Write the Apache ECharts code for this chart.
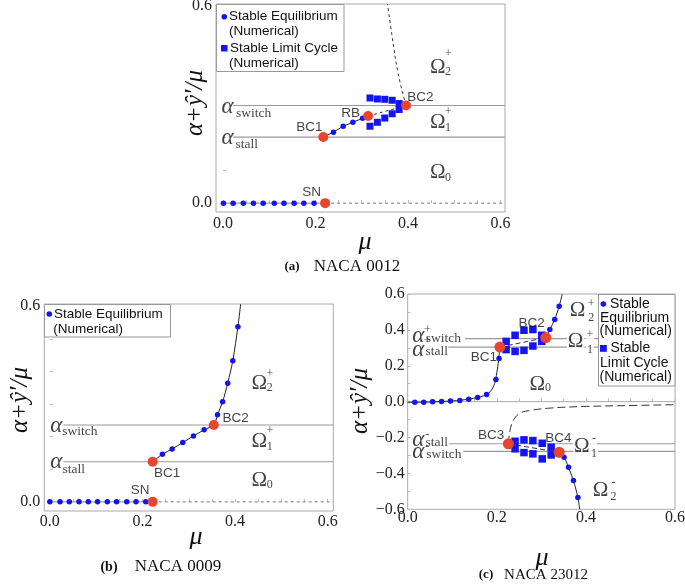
<!DOCTYPE html>
<html><head><meta charset="utf-8">
<script src="https://cdn.jsdelivr.net/npm/echarts@6/dist/echarts.min.js"></script>
<style>html,body{margin:0;padding:0;background:#fff}#c{width:685px;height:585px}</style>
</head><body><div id="c"></div>
<script>
// ---------- tick values ----------
const muTicks = [0, 0.2, 0.4, 0.6];
const yTicksAB = [0, 0.6];
const yTicksC = [-0.6, -0.4, -0.2, 0, 0.2, 0.4, 0.6];
const muMinor = [0, 0.05, 0.1, 0.15, 0.2, 0.25, 0.3, 0.35, 0.4, 0.45, 0.5, 0.55, 0.6];
const yMinorAB = [0, 0.1, 0.2, 0.3, 0.4, 0.5, 0.6];
const yMinorC = [-0.6, -0.5, -0.4, -0.3, -0.2, -0.1, 0, 0.1, 0.2, 0.3, 0.4, 0.5, 0.6];

// ---------- (a) NACA 0012 ----------
const a_eqZero = [[0.001,0],[0.022,0],[0.044,0],[0.066,0],[0.087,0],[0.111,0],[0.132,0],[0.154,0],[0.175,0],[0.197,0]];
const a_eqUpper = [[0.239,0.216],[0.260,0.234],[0.281,0.246],[0.302,0.258]];
const a_lcUpper = [[0.318,0.320],[0.334,0.317],[0.350,0.316],[0.366,0.313],[0.381,0.303]];
const a_lcLower = [[0.318,0.234],[0.334,0.246],[0.350,0.259],[0.366,0.272],[0.381,0.285]];
const a_bif = [[0.221,0],[0.217,0.201],[0.314,0.265],[0.396,0.297]]; // SN, BC1, RB, BC2
const a_stableCurve = [[0.217,0.201],[0.239,0.216],[0.260,0.234],[0.281,0.246],[0.302,0.258],[0.314,0.265]];
const a_unstableBranch = [[0.314,0.265],[0.396,0.297]];
const a_unstableCurve = [[0.396,0.297],[0.379,0.394],[0.365,0.516],[0.356,0.606]];
const a_zeroStable = [[0,0],[0.221,0]];
const a_zeroUnstable = [[0.221,0],[0.61,0]];
const a_alphaSwitch = 0.297, a_alphaStall = 0.201, a_alphaStart = 0.022;

// ---------- (b) NACA 0009 ----------
const b_eqZero = [[0.0,0],[0.022,0],[0.042,0],[0.063,0],[0.083,0],[0.103,0],[0.124,0],[0.144,0],[0.166,0],[0.186,0],[0.207,0]];
const b_eqUpper = [[0.243,0.146],[0.264,0.162],[0.287,0.182],[0.310,0.202],[0.333,0.221],[0.362,0.267],[0.373,0.307],[0.384,0.364],[0.395,0.433],[0.406,0.537]];
const b_bif = [[0.222,0],[0.222,0.123],[0.354,0.236]]; // SN, BC1, BC2
const b_curve = [[0.222,0.123],[0.243,0.146],[0.264,0.162],[0.287,0.182],[0.310,0.202],[0.333,0.221],[0.354,0.236],[0.362,0.267],[0.373,0.307],[0.384,0.364],[0.395,0.433],[0.406,0.537],[0.412,0.607]];
const b_zeroStable = [[0,0],[0.222,0]];
const b_zeroUnstable = [[0.222,0],[0.612,0]];
const b_alphaSwitch = 0.236, b_alphaStall = 0.123, b_alphaStart = 0.029;

// ---------- (c) NACA 23012 ----------
const c_eqLower = [[0.016,-0.003],[0.036,-0.003],[0.056,0.0],[0.076,0.001],[0.096,0.003],[0.117,0.007],[0.137,0.014],[0.157,0.023],[0.177,0.040],[0.198,0.124],[0.205,0.240]];
const c_eqUpper = [[0.319,0.402],[0.330,0.458],[0.340,0.532]];
const c_eqNeg = [[0.351,-0.310],[0.361,-0.366],[0.372,-0.440],[0.382,-0.534]];
const c_lcPosUpper = [[0.221,0.336],[0.241,0.370],[0.261,0.398],[0.281,0.402],[0.301,0.370]];
const c_lcPosLower = [[0.221,0.290],[0.241,0.280],[0.261,0.286],[0.281,0.310],[0.301,0.336]];
const c_lcNegUpper = [[0.241,-0.221],[0.261,-0.213],[0.281,-0.217],[0.302,-0.232],[0.322,-0.254]];
const c_lcNegLower = [[0.241,-0.263],[0.261,-0.284],[0.281,-0.291],[0.302,-0.319],[0.322,-0.297]];
const c_bif = [[0.207,0.304],[0.310,0.357],[0.226,-0.235],[0.340,-0.282]]; // BC1..BC4
const c_curveLow = [[0,-0.004],[0.05,-0.002],[0.1,0.004],[0.14,0.015],[0.17,0.032],[0.185,0.055],[0.195,0.1],[0.2,0.16],[0.204,0.23],[0.207,0.304]];
const c_curveUp = [[0.310,0.357],[0.319,0.402],[0.330,0.458],[0.340,0.532],[0.347,0.6]];
const c_curveNeg = [[0.340,-0.282],[0.351,-0.310],[0.361,-0.366],[0.372,-0.440],[0.382,-0.534],[0.386,-0.6]];
const c_dashPos = [[0.207,0.304],[0.310,0.357]];
const c_dashNeg = [[0.226,-0.235],[0.340,-0.282]];
const c_dashCurve = [[0.226,-0.235],[0.229,-0.17],[0.237,-0.105],[0.252,-0.064],[0.275,-0.049],[0.319,-0.036],[0.394,-0.027],[0.469,-0.023],[0.6,-0.017]];
const c_zero = [[0,0],[0.6,0]];
const c_alpha = [[0.351,0.129],[0.304,0.091],[-0.235,0.093],[-0.277,0.125]]; // [value, start mu]

// ---------- annotations (data coordinates) ----------
const a_text = [
  ['BC2',0.427,0.323,'pt'],['RB',0.276,0.272,'pt'],['BC1',0.187,0.232,'pt'],['SN',0.192,0.034,'pt'],
  ['Ω',0.4645,0.414,'om'],['+',0.487,0.455,'os'],['2',0.487,0.400,'os'],
  ['Ω',0.4645,0.244,'om'],['+',0.487,0.279,'os'],['1',0.487,0.230,'os'],
  ['Ω',0.4645,0.092,'om'],['0',0.487,0.077,'os'],
  ['α',0.0099,0.292,'al'],['switch',0.0662,0.273,'as'],
  ['α',0.0099,0.197,'al'],['stall',0.0517,0.180,'as']
];
const b_text = [
  ['BC2',0.401,0.256,'pt'],['BC1',0.253,0.088,'pt'],['SN',0.195,0.035,'pt'],
  ['Ω',0.452,0.364,'om'],['+',0.475,0.394,'os'],['2',0.475,0.350,'os'],
  ['Ω',0.452,0.185,'om'],['+',0.475,0.217,'os'],['1',0.475,0.169,'os'],
  ['Ω',0.452,0.065,'om'],['0',0.475,0.053,'os'],
  ['α',0.0138,0.233,'al'],['switch',0.065,0.215,'as'],
  ['α',0.0138,0.121,'al'],['stall',0.0516,0.099,'as']
];
const c_text = [
  ['BC2',0.278,0.439,'pt'],['BC1',0.171,0.250,'pt'],['BC3',0.187,-0.188,'pt'],['BC4',0.338,-0.203,'pt'],
  ['Ω',0.381,0.509,'om'],['+',0.412,0.545,'os'],['2',0.412,0.467,'os'],
  ['Ω',0.377,0.335,'om',1],['+',0.409,0.372,'os',1],['1',0.409,0.288,'os',1],
  ['Ω',0.291,0.098,'om'],['0',0.315,0.076,'os'],
  ['Ω',0.391,-0.249,'om',1],['-',0.418,-0.207,'os',1],['1',0.418,-0.293,'os',1],
  ['Ω',0.433,-0.493,'om'],['-',0.462,-0.450,'os'],['2',0.462,-0.532,'os'],
  ['α',0.024,0.367,'al'],['+',0.044,0.398,'os'],['switch',0.080,0.353,'as'],
  ['α',0.024,0.290,'al'],['+',0.044,0.338,'os'],['stall',0.065,0.280,'as'],
  ['α',0.024,-0.212,'al'],['-',0.044,-0.183,'os'],['stall',0.065,-0.226,'as'],
  ['α',0.024,-0.282,'al'],['-',0.044,-0.254,'os'],['switch',0.081,-0.295,'as']
];

// ---------- styling ----------
const FS = '"Liberation Serif","Times New Roman",serif';
const SS = '"Liberation Sans",Arial,sans-serif';
const BLUE = '#1414f0', RED = '#e8452e';
const STY = {
  pt:{fontFamily:SS,fontSize:13.5,color:'#111'},
  om:{fontFamily:FS,fontSize:21,color:'#111'},
  os:{fontFamily:FS,fontSize:12,color:'#111'},
  al:{fontFamily:FS,fontSize:23,fontStyle:'italic',color:'#111'},
  as:{fontFamily:FS,fontSize:13.5,color:'#111'}
};
const fmt = v => (v < -1e-9 ? '\u2212' : '') + Math.abs(v).toFixed(1);

function line(gi, data, color, width, type, smooth, z) {
  return {type:'line', xAxisIndex:gi, yAxisIndex:gi, data:data, symbol:'none', smooth:smooth||false,
    lineStyle:{color:color, width:width, type:type||'solid'}, silent:true, z:z||2, animation:false};
}
function pts(gi, data, symbol, size, color, z) {
  return {type:'scatter', xAxisIndex:gi, yAxisIndex:gi, data:data, symbol:symbol, symbolSize:size,
    itemStyle:{color:color, opacity:1}, silent:true, z:z||3, animation:false};
}
function texts(gi, arr) {
  return {type:'scatter', xAxisIndex:gi, yAxisIndex:gi, symbolSize:1, itemStyle:{color:'rgba(0,0,0,0)'},
    silent:true, z:8, animation:false,
    data: arr.map(a => ({value:[a[1],a[2]], label:Object.assign({show:true, position:'inside', formatter:a[0],
      backgroundColor: a[4] ? '#fff' : 'transparent', padding: a[4] ? [0,1] : 0}, STY[a[3]])}))};
}
function hline(gi, y, x0, x1) { return line(gi, [[x0,y],[x1,y]], '#9a9a9a', 1.1, 'solid', false, 1); }

function xAx(gi, min, max, margin) {
  return {type:'value', gridIndex:gi, min:min, max:max, axisLine:{show:false}, splitLine:{show:false},
    axisTick:{show:true, inside:true, length:3, customValues:muMinor, lineStyle:{color:'#bbb'}},
    axisLabel:{customValues:muTicks, formatter:fmt, fontFamily:FS, fontSize:16, color:'#222', margin:margin}};
}
function yAx(gi, min, max, ticks, minor, margin) {
  return {type:'value', gridIndex:gi, min:min, max:max, axisLine:{show:false}, splitLine:{show:false},
    axisTick:{show:true, inside:true, length:3, customValues:minor, lineStyle:{color:'#bbb'}},
    axisLabel:{customValues:ticks, formatter:fmt, fontFamily:FS, fontSize:16, color:'#222', margin:margin}};
}
const gridBase = {show:true, borderColor:'#aaa', borderWidth:1, backgroundColor:'transparent', containLabel:false, outerBoundsMode:'none'};

const series = [
  // (a)
  hline(0, a_alphaSwitch, a_alphaStart, 0.61), hline(0, a_alphaStall, a_alphaStart, 0.61),
  line(0, a_zeroStable, '#888', 1, 'solid'), line(0, a_zeroUnstable, '#777', 1, [3,3]),
  line(0, a_stableCurve, '#222', 1, 'solid'), line(0, a_unstableBranch, '#333', 1, [3,3]),
  line(0, a_unstableCurve, '#333', 1, [3,3], 0.4),
  pts(0, a_eqZero, 'circle', 5.5, BLUE), pts(0, a_eqUpper, 'circle', 5.5, BLUE),
  pts(0, a_lcUpper, 'rect', 7, BLUE), pts(0, a_lcLower, 'rect', 7, BLUE),
  pts(0, a_bif, 'circle', 10, RED, 4),
  texts(0, a_text),
  // (b)
  hline(1, b_alphaSwitch, b_alphaStart, 0.612), hline(1, b_alphaStall, b_alphaStart, 0.612),
  line(1, b_zeroStable, '#888', 1, 'solid'), line(1, b_zeroUnstable, '#777', 1, [3,3]),
  line(1, b_curve, '#222', 1, 'solid', 0.3),
  pts(1, b_eqZero, 'circle', 5.5, BLUE), pts(1, b_eqUpper, 'circle', 5.5, BLUE),
  pts(1, b_bif, 'circle', 10, RED, 4),
  texts(1, b_text),
  // (c)
  line(2, c_zero, '#aaa', 1, 'solid', false, 1),
  hline(2, c_alpha[0][0], c_alpha[0][1], 0.6), hline(2, c_alpha[1][0], c_alpha[1][1], 0.6),
  hline(2, c_alpha[2][0], c_alpha[2][1], 0.6), hline(2, c_alpha[3][0], c_alpha[3][1], 0.6),
  line(2, c_curveLow, '#222', 1, 'solid', 0.3), line(2, c_curveUp, '#222', 1, 'solid', 0.3),
  line(2, c_curveNeg, '#222', 1, 'solid', 0.3),
  line(2, c_dashPos, '#333', 1, [5,3]), line(2, c_dashNeg, '#333', 1, [5,3]),
  line(2, c_dashCurve, '#333', 1, [8,4], 0.4),
  pts(2, c_eqLower, 'circle', 5.5, BLUE), pts(2, c_eqUpper, 'circle', 5.5, BLUE), pts(2, c_eqNeg, 'circle', 5.5, BLUE),
  pts(2, c_lcPosUpper, 'rect', 7.5, BLUE), pts(2, c_lcPosLower, 'rect', 7.5, BLUE),
  pts(2, c_lcNegUpper, 'rect', 7.5, BLUE), pts(2, c_lcNegLower, 'rect', 7.5, BLUE),
  pts(2, c_bif, 'circle', 11, RED, 4),
  texts(2, c_text)
];

function T(text, x, y, font, opts) {
  return Object.assign({type:'text', x:x, y:y, z:100, silent:true,
    style:{text:text, x:0, y:0, font:font, fill:'#111', textAlign:'center', textVerticalAlign:'middle', verticalAlign:'middle', align:'center'}}, opts||{});
}
function LT(text, x, y, size) {
  return {type:'text', x:x, y:y, z:101, silent:true,
    style:{text:text, x:0, y:0, font:size+'px "Liberation Sans", Arial, sans-serif', fill:'#111', textAlign:'left', align:'left', textVerticalAlign:'middle', verticalAlign:'middle'}};
}
const boxStyle = {fill:'#fff', stroke:'#999', lineWidth:1};
const graphic = [
  // axis titles
  T('α+ŷ′/μ', 195, 103, 'italic 25px "Liberation Serif", serif', {rotation:Math.PI/2}),
  T('α+ŷ′/μ', 20, 400, 'italic 25px "Liberation Serif", serif', {rotation:Math.PI/2}),
  T('α+ŷ′/μ', 360, 401, 'italic 25px "Liberation Serif", serif', {rotation:Math.PI/2}),
  T('μ', 365, 242, 'italic 26px "Liberation Serif", serif'),
  T('μ', 196, 537, 'italic 26px "Liberation Serif", serif'),
  T('μ', 542, 558, 'italic 26px "Liberation Serif", serif'),
  // captions
  T('(a)', 292, 267, 'bold 13px "Liberation Serif", serif'),
  T('NACA 0012', 357, 267, '17px "Liberation Serif", serif'),
  T('(b)', 109, 567, 'bold 14px "Liberation Serif", serif'),
  T('NACA 0009', 178, 567, '17px "Liberation Serif", serif'),
  T('(c)', 486, 575, 'bold 13px "Liberation Serif", serif'),
  T('NACA 23012', 546, 575, '15px "Liberation Serif", serif'),
  // legend (a)
  {type:'rect', z:99, silent:true, shape:{x:216.5, y:4.5, width:127.5, height:67}, style:boxStyle},
  {type:'circle', z:101, silent:true, shape:{cx:224.3, cy:16.7, r:2.8}, style:{fill:BLUE}},
  LT('Stable Equilibrium', 229, 16.7, 13.5), LT('(Numerical)', 229, 31.7, 13.5),
  {type:'rect', z:101, silent:true, shape:{x:221, y:45, width:6.5, height:6.5}, style:{fill:BLUE}},
  LT('Stable Limit Cycle', 230, 48.3, 13.5), LT('(Numerical)', 229, 63.3, 13.5),
  // legend (b)
  {type:'rect', z:99, silent:true, shape:{x:44.5, y:304.5, width:126, height:32.5}, style:boxStyle},
  {type:'circle', z:101, silent:true, shape:{cx:49.3, cy:314, r:2.8}, style:{fill:BLUE}},
  LT('Stable Equilibrium', 54, 314, 13.5), LT('(Numerical)', 53.3, 329.3, 13.5),
  // legend (c)
  {type:'rect', z:99, silent:true, shape:{x:598.5, y:294.5, width:76.5, height:91.5}, style:boxStyle},
  {type:'circle', z:101, silent:true, shape:{cx:603.3, cy:304, r:2.8}, style:{fill:BLUE}},
  LT('Stable', 610, 304, 14), LT('Equilibrium', 600, 317.7, 14), LT('(Numerical)', 599.5, 331, 14),
  {type:'rect', z:101, silent:true, shape:{x:600, y:345, width:6.8, height:6.8}, style:{fill:BLUE}},
  LT('Stable', 610.5, 348.3, 14), LT('Limit Cycle', 600, 362.7, 14), LT('(Numerical)', 599.5, 376.7, 14)
];

const chart = echarts.init(document.getElementById('c'), null, {renderer:'canvas'});
chart.setOption({
  animation:false,
  backgroundColor:'#fff',
  grid:[
    Object.assign({left:216, top:4, width:289, height:208}, gridBase),
    Object.assign({left:44.3, top:304, width:289, height:207}, gridBase),
    Object.assign({left:407.7, top:294, width:267.3, height:215.3}, gridBase)
  ],
  xAxis:[xAx(0,-0.015,0.61,4), xAx(1,-0.012,0.612,3), xAx(2,0,0.6,0)],
  yAxis:[yAx(0,-0.027,0.606,yTicksAB,yMinorAB,4), yAx(1,-0.028,0.607,yTicksAB,yMinorAB,4), yAx(2,-0.6,0.6,yTicksC,yMinorC,3)],
  series:series,
  graphic:graphic
});
</script></body></html>
